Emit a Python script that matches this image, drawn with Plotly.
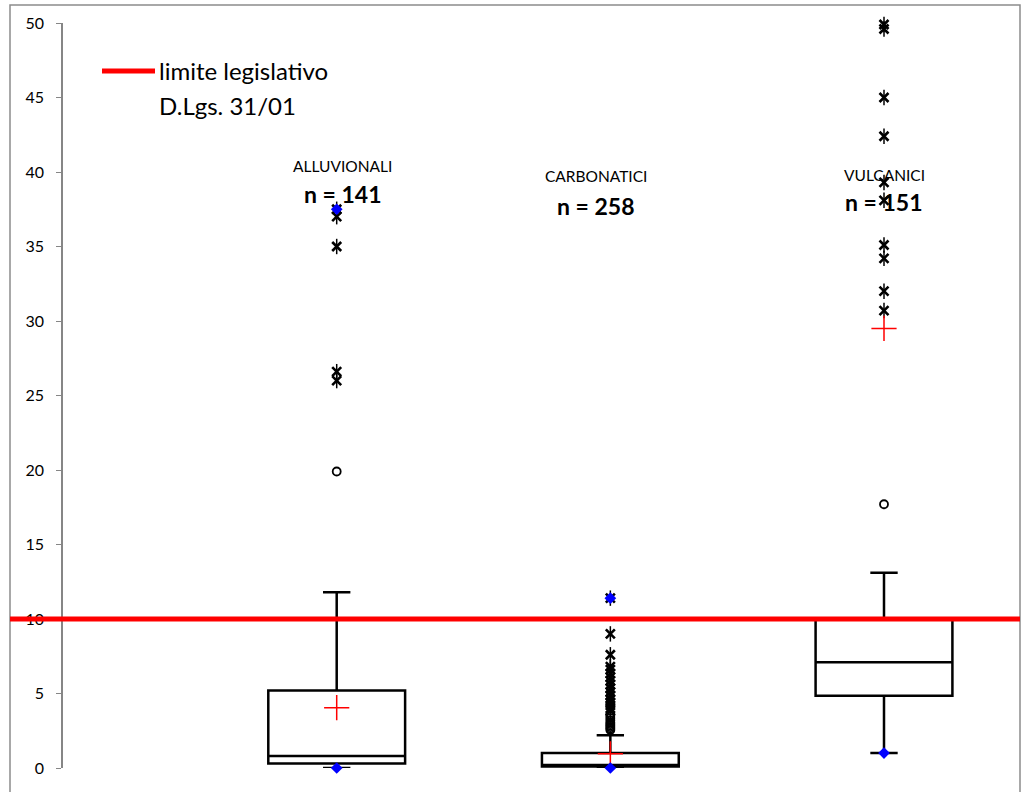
import plotly.graph_objects as go

# ---------------- data ----------------
CATEGORIES = ["ALLUVIONALI", "CARBONATICI", "VULCANICI"]
N_SAMPLES = [141, 258, 151]
Q1 = [0.3, 0.1, 4.85]
MEDIAN = [0.8, 0.2, 7.1]
Q3 = [5.2, 1.0, 9.95]
LOWER_WHISKER = [0.0, 0.0, 1.0]
UPPER_WHISKER = [11.8, 2.2, 13.1]
MEAN = [4.05, 0.95, 29.5]
MINIMUM = [0.0, 0.0, 1.0]
MAXIMUM = [37.5, 11.4, None]

MILD_OUTLIERS = [
    [19.9],
    [3.6, 3.5, 3.35, 3.2, 3.05, 2.95, 2.85, 2.75, 2.65, 2.55],
    [17.7],
]
EXTREME_OUTLIERS = [
    [37.5, 37.0, 35.0, 26.6, 26.0],
    [11.4, 9.0, 7.6, 6.8, 6.6, 6.35, 6.1, 5.85, 5.6, 5.35, 5.1, 4.85, 4.6, 4.4, 4.2, 4.0, 3.85],
    [49.9, 49.6, 45.0, 42.4, 39.3, 38.1, 35.1, 34.2, 32.0, 30.7],
]

LIMIT_VALUE = 10
LIMIT_LABEL = ["limite legislativo", "D.Lgs. 31/01"]
Y_TICKS = [0, 5, 10, 15, 20, 25, 30, 35, 40, 45, 50]

# ---------------- figure ----------------
FONT = "Lato, 'Open Sans', sans-serif"
W, H = 1021, 792
ML, MR, MT, MB = 10, 1, 23, 24
PW = W - ML - MR
PH = H - MT - MB

fig = go.Figure()

for i, cat in enumerate(CATEGORIES):
    fig.add_trace(go.Box(
        x=[cat], q1=[Q1[i]], median=[MEDIAN[i]], q3=[Q3[i]],
        lowerfence=[LOWER_WHISKER[i]], upperfence=[UPPER_WHISKER[i]],
        width=0.5, whiskerwidth=0.2, boxpoints=False,
        fillcolor="white", line=dict(color="black", width=2.5),
        showlegend=False, hoverinfo="skip",
    ))

for i, cat in enumerate(CATEGORIES):
    mild = MILD_OUTLIERS[i]
    ext = EXTREME_OUTLIERS[i]
    fig.add_trace(go.Scatter(
        x=[cat] * len(mild), y=mild, mode="markers", cliponaxis=False,
        marker=dict(symbol="circle-open", size=8, color="black",
                    line=dict(color="black", width=1.8)),
        showlegend=False,
    ))
    fig.add_trace(go.Scatter(
        x=[cat] * len(ext), y=ext, mode="markers", cliponaxis=False,
        marker=dict(symbol="x-thin-open", size=9, color="black",
                    line=dict(color="black", width=2.6)),
        showlegend=False,
    ))
    fig.add_trace(go.Scatter(
        x=[cat] * len(ext), y=ext, mode="markers", cliponaxis=False,
        marker=dict(symbol="line-ns-open", size=11, color="black",
                    line=dict(color="black", width=1.5)),
        showlegend=False,
    ))

fig.add_trace(go.Scatter(
    x=CATEGORIES, y=MEAN, mode="markers", cliponaxis=False,
    marker=dict(symbol="cross-thin-open", size=18, color="red",
                line=dict(color="red", width=1.5)),
    showlegend=False,
))

ext_x, ext_y = [], []
for i, cat in enumerate(CATEGORIES):
    for v in (MINIMUM[i], MAXIMUM[i]):
        if v is not None:
            ext_x.append(cat)
            ext_y.append(v)
fig.add_trace(go.Scatter(
    x=ext_x, y=ext_y, mode="markers", cliponaxis=False,
    marker=dict(symbol="diamond", size=9, color="#0000ff",
                line=dict(width=0)),
    showlegend=False,
))

# legislative limit line across the plot area
fig.add_shape(type="line", xref="paper", x0=0, x1=1, yref="y",
              y0=LIMIT_VALUE, y1=LIMIT_VALUE,
              line=dict(color="#ff0000", width=5), layer="above")

# chart frame
fig.add_shape(type="rect", xref="paper", yref="paper",
              x0=0, x1=1, y0=-0.2, y1=1 + 18 / PH,
              line=dict(color="#8c8c8c", width=1.5), layer="below")

# legend (manual)
def px_x(px):
    return (px - ML) / PW

def px_y(py):
    return (H - MB - py) / PH

fig.add_shape(type="line", xref="paper", yref="paper",
              x0=px_x(102), x1=px_x(155), y0=px_y(71), y1=px_y(71),
              line=dict(color="#ff0000", width=5))
fig.add_annotation(xref="paper", yref="paper", x=px_x(157), y=px_y(71),
                   text=LIMIT_LABEL[0], showarrow=False, xanchor="left",
                   yanchor="middle", font=dict(family=FONT, size=24, color="black"))
fig.add_annotation(xref="paper", yref="paper", x=px_x(157), y=px_y(105),
                   text=LIMIT_LABEL[1], showarrow=False, xanchor="left",
                   yanchor="middle", font=dict(family=FONT, size=24, color="black"))

# group labels
label_shift = [6, -14, 0]
label_y = [40.4, 39.7, 39.8]
n_y = [38.5, 37.7, 38.0]
for i, cat in enumerate(CATEGORIES):
    fig.add_annotation(x=cat, y=label_y[i], text=cat, showarrow=False,
                       xshift=label_shift[i],
                       font=dict(family=FONT, size=15.5, color="black"))
    fig.add_annotation(x=cat, y=n_y[i], text=f"<b>n = {N_SAMPLES[i]}</b>",
                       showarrow=False, xshift=label_shift[i],
                       font=dict(family=FONT, size=23, color="black"))

spacing = (884 - 336.7) / 2
x0 = -(336.7 - ML) / spacing
x1 = x0 + PW / spacing
ypos = (62 - ML) / PW

fig.update_layout(
    width=W, height=H,
    margin=dict(l=ML, r=MR, t=MT, b=MB, pad=0),
    paper_bgcolor="white", plot_bgcolor="white",
    font=dict(family=FONT, color="black"),
    showlegend=False,
    xaxis=dict(type="category", categoryorder="array", categoryarray=CATEGORIES,
               range=[x0, x1], visible=False, showgrid=False, zeroline=False),
    yaxis=dict(range=[0, 50], tickvals=Y_TICKS, anchor="free", position=ypos,
               showline=True, linecolor="#868686", linewidth=1.5,
               ticks="outside", ticklen=5, tickwidth=1.2, tickcolor="#868686",
               ticklabelstandoff=9, showgrid=False, zeroline=False,
               tickfont=dict(family=FONT, size=16, color="black")),
    yaxis2=dict(range=[0, 50], tickvals=Y_TICKS, overlaying="y", anchor="free",
                position=ypos, side="left", showline=False,
                ticks="inside", ticklen=5, tickwidth=1.2, tickcolor="#868686",
                showticklabels=False, showgrid=False, zeroline=False),
)

fig.write_html(
    "out.html",
    config={"displayModeBar": False},
    post_script="document.body.style.margin='0px';document.body.style.overflow='hidden';",
)
